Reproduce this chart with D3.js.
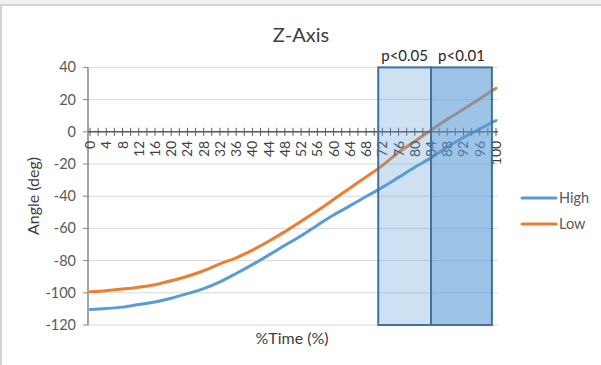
<!DOCTYPE html>
<html>
<head>
<meta charset="utf-8">
<script src="https://cdn.jsdelivr.net/npm/d3@7"></script>
<style>
  body { margin: 0; background: #fff; }
  text { font-family: Lato, "Open Sans", sans-serif; }
</style>
</head>
<body>
<svg width="601" height="365"></svg>
<script>
// data (every 4 % of time)
var times = [0, 4, 8, 12, 16, 20, 24, 28, 32, 36, 40, 44, 48, 52, 56, 60, 64, 68, 72, 76, 80, 84, 88, 92, 96, 100];
var high = [-110.3, -109.8, -108.9, -107.3, -105.7, -103.4, -100.5, -97.4, -93.2, -88, -82.5, -76.6, -70.5, -64.6, -58, -51.7, -46, -40.2, -34.5, -28.3, -22, -16.2, -9.5, -3.5, 1.8, 7];
var low = [-99.3, -98.7, -97.7, -96.5, -95, -92.5, -89.7, -86.3, -82, -78.3, -73.5, -68, -62, -55.5, -49, -42, -35, -28, -21, -12.8, -6, 1, 7.8, 14, 20.5, 27];
var regionLabels = ["p<0.05", "p<0.01"];
var regionStart = [71, 84];
var regionEnd = [84, 99];
var yTicks = [40, 20, 0, -20, -40, -60, -80, -100, -120];
var xLabels = d3.range(0, 101, 4);

var svg = d3.select("svg");

// chart frame edges
svg.append("rect").attr("x", 0).attr("y", 0).attr("width", 601).attr("height", 4).attr("fill", "#f0f0f0");
svg.append("line").attr("x1", 0).attr("x2", 601).attr("y1", 5).attr("y2", 5).attr("stroke", "#d4d4d4").attr("stroke-width", 2);
svg.append("line").attr("x1", 1).attr("x2", 1).attr("y1", 5).attr("y2", 365).attr("stroke", "#d4d4d4").attr("stroke-width", 2);

var x = d3.scaleLinear().domain([-0.5, 100.5]).range([88, 498]);
var y = d3.scaleLinear().domain([-120, 40]).range([325, 67.4]);

// gridlines
svg.append("g").selectAll("line")
    .data(yTicks)
    .enter().append("line")
    .attr("x1", 88).attr("x2", 498)
    .attr("y1", function(d) { return y(d); })
    .attr("y2", function(d) { return y(d); })
    .attr("stroke", "#d9d9d9")
    .attr("stroke-width", 1);

// y axis
svg.append("line").attr("x1", 88).attr("x2", 88).attr("y1", y(40)).attr("y2", y(-120))
    .attr("stroke", "#868686").attr("stroke-width", 1.5);
svg.append("g").selectAll("line")
    .data(yTicks)
    .enter().append("line")
    .attr("x1", 83).attr("x2", 88)
    .attr("y1", function(d) { return y(d); })
    .attr("y2", function(d) { return y(d); })
    .attr("stroke", "#868686");
svg.append("g").selectAll("text")
    .data(yTicks)
    .enter().append("text")
    .attr("x", 76)
    .attr("y", function(d) { return y(d) + 5; })
    .attr("text-anchor", "end")
    .attr("font-size", 14.5)
    .attr("fill", "#595959")
    .text(function(d) { return d; });

// lines
var line = d3.line()
    .x(function(d) { return x(d[0]); })
    .y(function(d) { return y(d[1]); })
    .curve(d3.curveMonotoneX);

svg.append("path")
    .datum(times.map(function(t, i) { return [t, high[i]]; }))
    .attr("d", line)
    .attr("fill", "none")
    .attr("stroke", "#5b9bd5")
    .attr("stroke-width", 3)
    .attr("stroke-linecap", "round");

svg.append("path")
    .datum(times.map(function(t, i) { return [t, low[i]]; }))
    .attr("d", line)
    .attr("fill", "none")
    .attr("stroke", "#ed7d31")
    .attr("stroke-width", 3)
    .attr("stroke-linecap", "round");

// x axis (crosses at 0)
var y0 = y(0);
svg.append("line").attr("x1", 88).attr("x2", 498).attr("y1", y0).attr("y2", y0)
    .attr("stroke", "#595959").attr("stroke-width", 1.5);
svg.append("g").selectAll("line")
    .data(d3.range(0, 101, 2))
    .enter().append("line")
    .attr("x1", function(d) { return x(d); })
    .attr("x2", function(d) { return x(d); })
    .attr("y1", y0 - 4).attr("y2", y0 + 4)
    .attr("stroke", "#595959");
svg.append("g").selectAll("text")
    .data(xLabels)
    .enter().append("text")
    .attr("transform", function(d) { return "translate(" + (x(d) + 5) + "," + (y0 + 9) + ") rotate(-90)"; })
    .attr("text-anchor", "end")
    .attr("font-size", 14)
    .attr("fill", "#404040")
    .text(function(d) { return d; });

// significance regions
var regionFill = ["rgba(91,155,213,0.3)", "rgba(91,155,213,0.6)"];
svg.append("g").selectAll("rect")
    .data(regionLabels)
    .enter().append("rect")
    .attr("x", function(d, i) { return x(regionStart[i]); })
    .attr("y", y(40))
    .attr("width", function(d, i) { return x(regionEnd[i]) - x(regionStart[i]); })
    .attr("height", y(-120) - y(40))
    .attr("fill", function(d, i) { return regionFill[i]; })
    .attr("stroke", "#41719c")
    .attr("stroke-width", 2);
svg.append("g").selectAll("text")
    .data(regionLabels)
    .enter().append("text")
    .attr("x", function(d, i) { return (x(regionStart[i]) + x(regionEnd[i])) / 2; })
    .attr("y", 61)
    .attr("text-anchor", "middle")
    .attr("font-size", 15)
    .attr("fill", "#262626")
    .text(function(d) { return d; });

// titles
svg.append("text").attr("x", 301).attr("y", 42).attr("text-anchor", "middle")
    .attr("font-size", 20).attr("fill", "#404040").text("Z-Axis");
svg.append("text").attr("x", 292).attr("y", 344).attr("text-anchor", "middle")
    .attr("font-size", 16).attr("fill", "#404040").text("%Time (%)");
svg.append("text").attr("transform", "translate(39,196) rotate(-90)").attr("text-anchor", "middle")
    .attr("font-size", 16).attr("fill", "#404040").text("Angle (deg)");

// legend
var legendNames = ["High", "Low"];
var legendColors = ["#5b9bd5", "#ed7d31"];
var legend = svg.append("g").selectAll("g")
    .data(legendNames)
    .enter().append("g")
    .attr("transform", function(d, i) { return "translate(522," + (198 + i * 26) + ")"; });
legend.append("line")
    .attr("x1", 0).attr("x2", 34).attr("y1", 0).attr("y2", 0)
    .attr("stroke", function(d, i) { return legendColors[i]; })
    .attr("stroke-width", 3)
    .attr("stroke-linecap", "round");
legend.append("text")
    .attr("x", 37).attr("y", 5)
    .attr("font-size", 14.5)
    .attr("fill", "#595959")
    .text(function(d) { return d; });
</script>
</body>
</html>
